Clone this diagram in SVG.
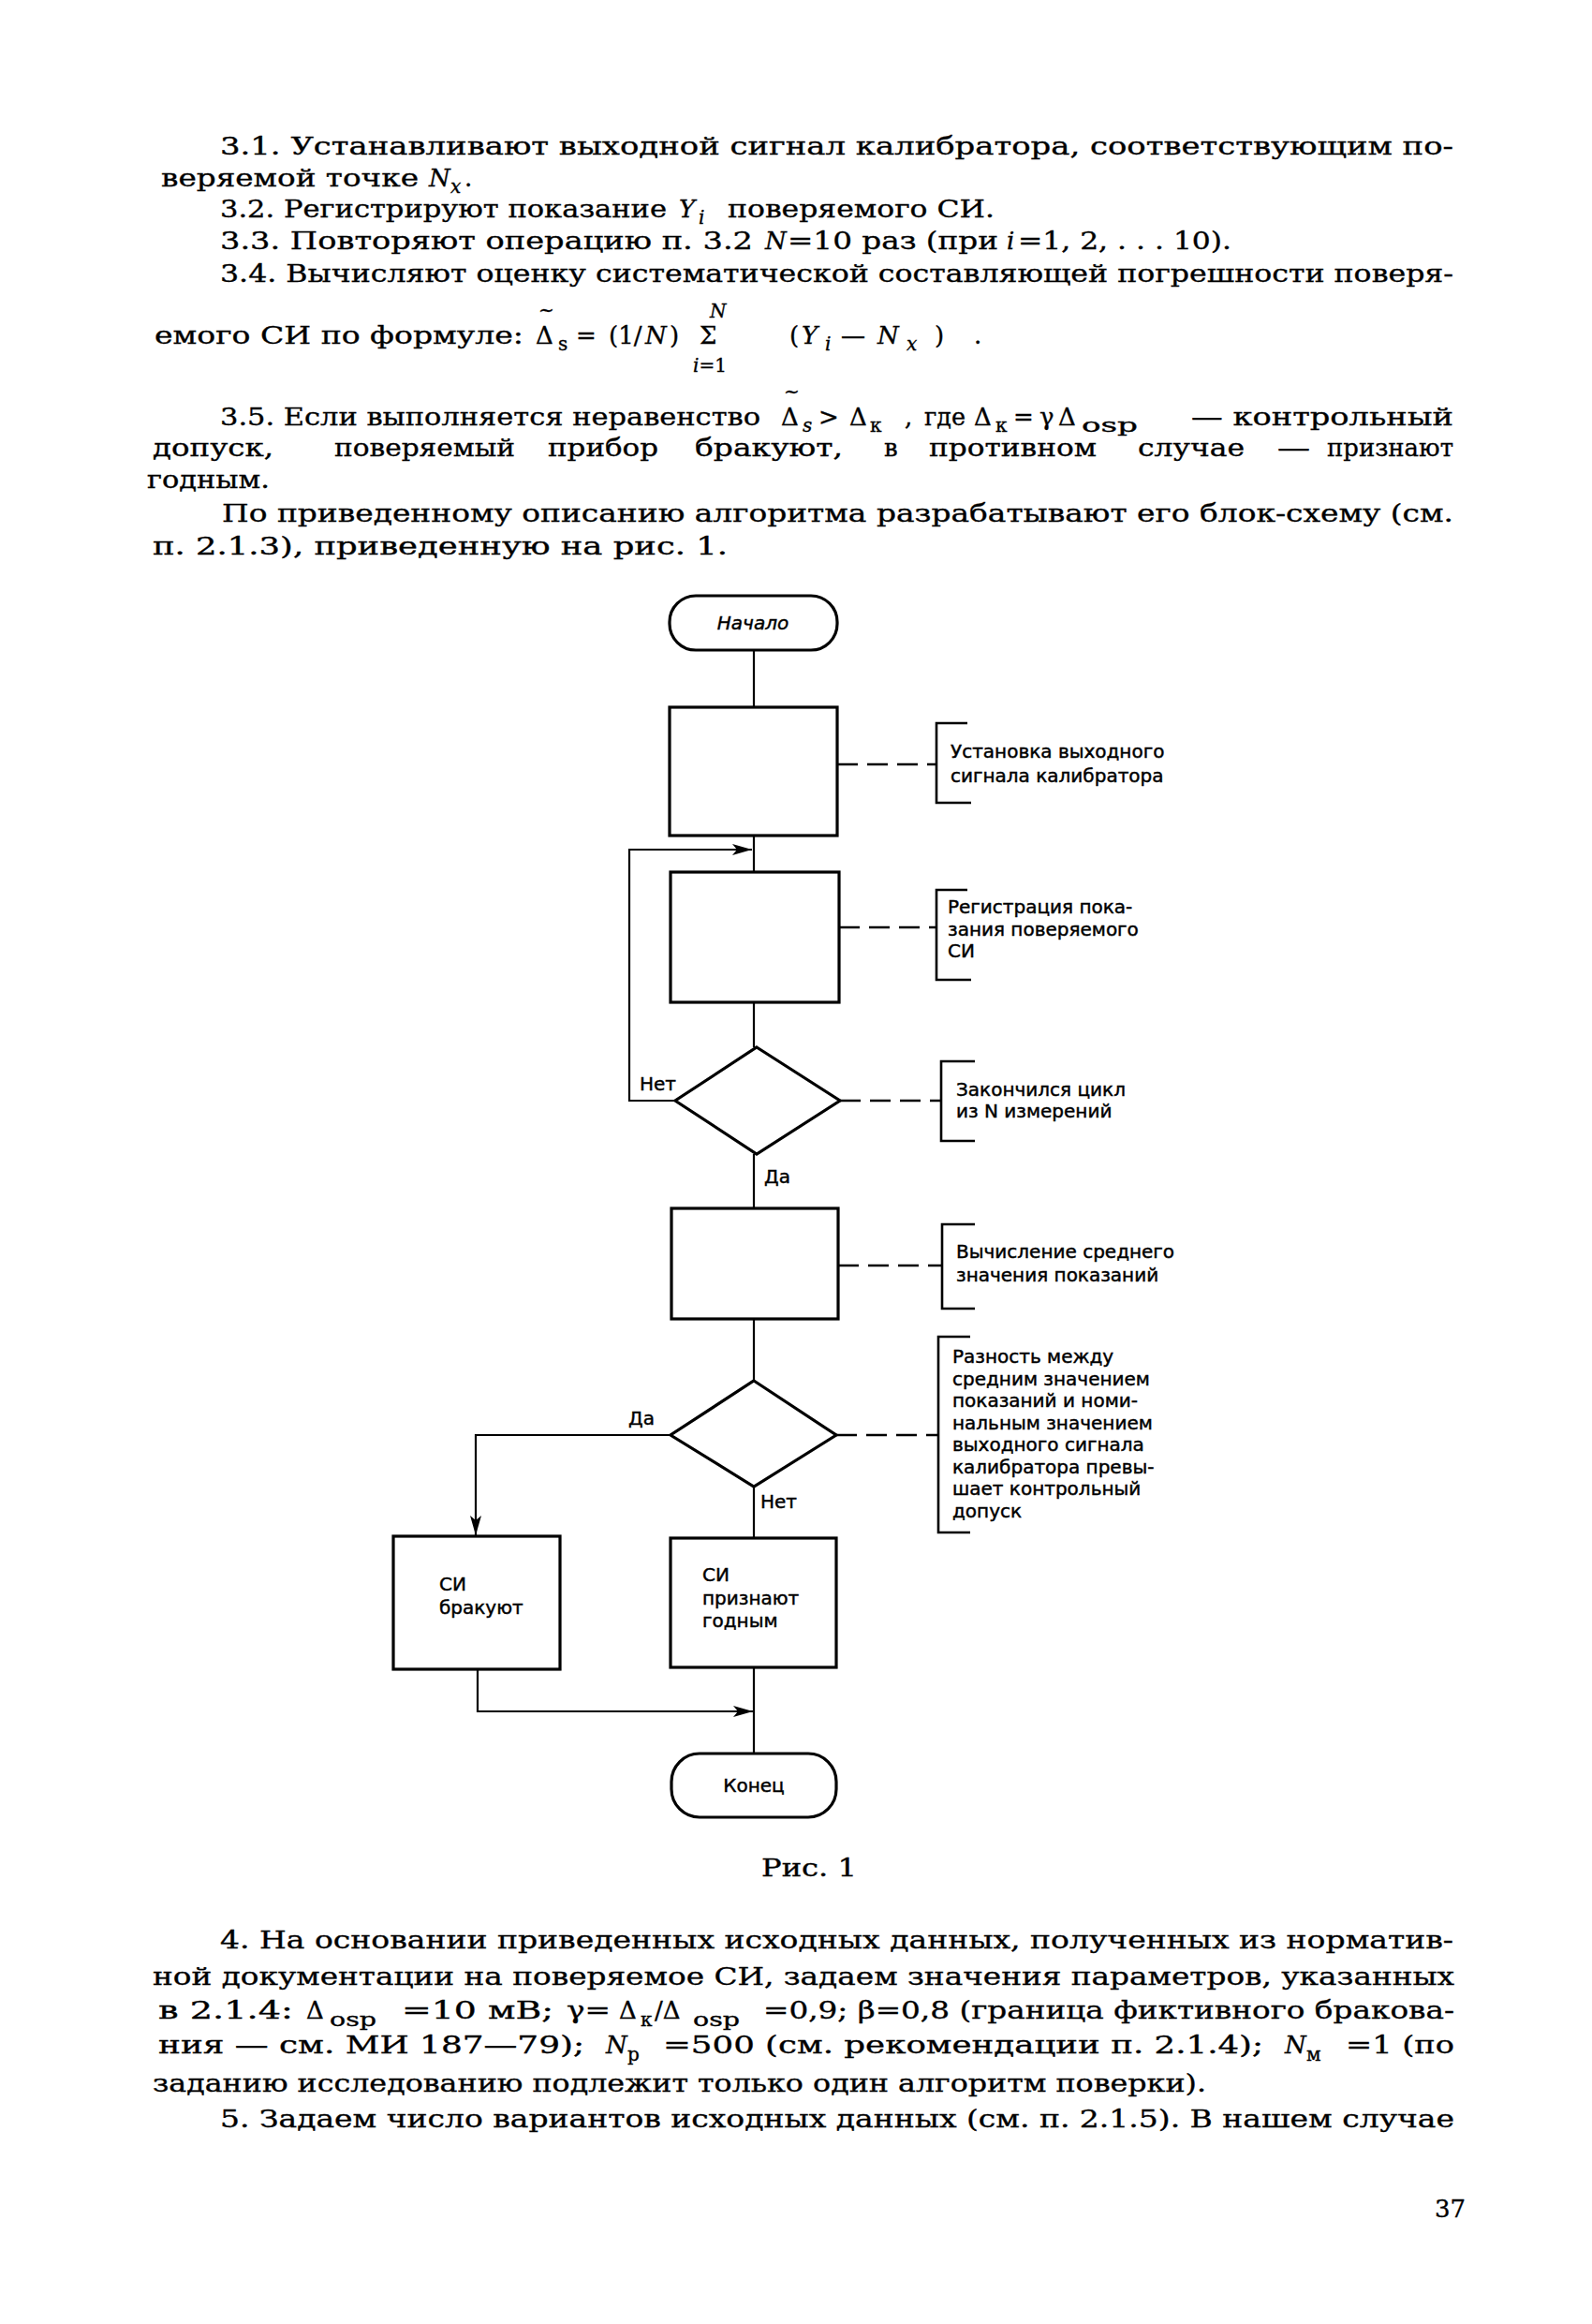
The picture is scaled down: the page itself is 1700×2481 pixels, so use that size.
<svg xmlns="http://www.w3.org/2000/svg" width="1700" height="2481" viewBox="0 0 1700 2481">
<defs>
<style>
.t{font-family:"DejaVu Serif","Liberation Serif",serif;font-size:26px;fill:#000;stroke:#000;stroke-width:0.35}
.s{font-size:20px}
.i{font-style:italic}
.l{font-family:"DejaVu Sans","Liberation Sans",sans-serif;font-size:20px;fill:#000;stroke:#000;stroke-width:0.45}
.shp{fill:none;stroke:#000;stroke-width:3.2}
.con{fill:none;stroke:#000;stroke-width:2.2}
.dash{fill:none;stroke:#000;stroke-width:2.6;stroke-dasharray:22 10}
.br{fill:none;stroke:#000;stroke-width:2.6}
</style>
<marker id="arr" markerUnits="userSpaceOnUse" markerWidth="22" markerHeight="14" refX="21" refY="7" orient="auto">
<path d="M0,1 L21,7 L0,13 L5,7 Z" fill="#000"/>
</marker>
</defs>
<rect width="1700" height="2481" fill="#fff"/>

<g id="text-top">
<text class="t" x="235" y="165" textLength="1317" lengthAdjust="spacingAndGlyphs">3.1. Устанавливают выходной сигнал калибратора, соответствующим по-</text>
<text class="t" x="172" y="199" textLength="275" lengthAdjust="spacingAndGlyphs">веряемой точке</text>
<text class="t i" x="458" y="199">N</text>
<text class="t s i" x="481" y="206">x</text>
<text class="t" x="496" y="199">.</text>

<text class="t" x="235" y="232" textLength="477" lengthAdjust="spacingAndGlyphs">3.2. Регистрируют показание</text>
<text class="t i" x="725" y="232">Y</text>
<text class="t s i" x="746" y="239">i</text>
<text class="t" x="777" y="232" textLength="285" lengthAdjust="spacingAndGlyphs">поверяемого СИ.</text>

<text class="t" x="235" y="266" textLength="569" lengthAdjust="spacingAndGlyphs">3.3. Повторяют операцию п. 3.2</text>
<text class="t i" x="817" y="266">N</text>
<text class="t" x="841" y="266" textLength="225" lengthAdjust="spacingAndGlyphs">=10 раз (при</text>
<text class="t i" x="1075" y="266">i</text>
<text class="t" x="1087" y="266" textLength="228" lengthAdjust="spacingAndGlyphs">=1, 2, . . . 10).</text>

<text class="t" x="235" y="301" textLength="1317" lengthAdjust="spacingAndGlyphs">3.4. Вычисляют оценку систематической составляющей погрешности поверя-</text>

<text class="t" x="165" y="367" textLength="394" lengthAdjust="spacingAndGlyphs">емого СИ по формуле:</text>
<text class="t" x="572" y="367">Δ</text>
<text class="t s" x="575" y="338">~</text>
<text class="t s" x="596" y="374">s</text>
<text class="t" x="615" y="367">=</text>
<text class="t" x="650" y="367">(1/</text>
<text class="t i" x="689" y="367">N</text>
<text class="t" x="715" y="367">)</text>
<text class="t" x="747" y="367">Σ</text>
<text class="t s i" x="758" y="339">N</text>
<text class="t s" x="740" y="397"><tspan class="i">i</tspan>=1</text>
<text class="t" x="843" y="367">(</text>
<text class="t i" x="856" y="367">Y</text>
<text class="t s i" x="881" y="374">i</text>
<text class="t" x="898" y="367">—</text>
<text class="t i" x="937" y="367">N</text>
<text class="t s i" x="968" y="374">x</text>
<text class="t" x="998" y="367">)</text>
<text class="t" x="1040" y="367">.</text>

<text class="t" x="235" y="454" textLength="577" lengthAdjust="spacingAndGlyphs">3.5. Если выполняется неравенство</text>
<text class="t" x="834" y="454">Δ</text>
<text class="t s" x="837" y="425">~</text>
<text class="t s i" x="857" y="461">s</text>
<text class="t" x="874" y="454">&gt;</text>
<text class="t" x="907" y="454">Δ</text>
<text class="t s" x="929" y="461">к</text>
<text class="t" x="966" y="454">,</text>
<text class="t" x="987" y="454" textLength="44" lengthAdjust="spacingAndGlyphs">где</text>
<text class="t" x="1040" y="454">Δ</text>
<text class="t s" x="1063" y="461">к</text>
<text class="t" x="1082" y="454">=</text>
<text class="t" x="1110" y="454">γ</text>
<text class="t" x="1130" y="454">Δ</text>
<text class="t s" x="1155" y="461" textLength="60" lengthAdjust="spacingAndGlyphs">osp</text>
<text class="t" x="1272" y="454" textLength="280" lengthAdjust="spacingAndGlyphs">— контрольный</text>

<text class="t" x="163" y="487" textLength="129" lengthAdjust="spacingAndGlyphs">допуск,</text>
<text class="t" x="357" y="487" textLength="193" lengthAdjust="spacingAndGlyphs">поверяемый</text>
<text class="t" x="585" y="487" textLength="118" lengthAdjust="spacingAndGlyphs">прибор</text>
<text class="t" x="742" y="487" textLength="158" lengthAdjust="spacingAndGlyphs">бракуют,</text>
<text class="t" x="944" y="487">в</text>
<text class="t" x="992" y="487" textLength="179" lengthAdjust="spacingAndGlyphs">противном</text>
<text class="t" x="1215" y="487" textLength="114" lengthAdjust="spacingAndGlyphs">случае</text>
<text class="t" x="1364" y="487" textLength="35" lengthAdjust="spacingAndGlyphs">—</text>
<text class="t" x="1417" y="487" textLength="135" lengthAdjust="spacingAndGlyphs">признают</text>
<text class="t" x="157" y="521" textLength="131" lengthAdjust="spacingAndGlyphs">годным.</text>
<text class="t" x="237" y="557" textLength="1315" lengthAdjust="spacingAndGlyphs">По приведенному описанию алгоритма разрабатывают его блок-схему (см.</text>
<text class="t" x="163" y="592" textLength="614" lengthAdjust="spacingAndGlyphs">п. 2.1.3), приведенную на рис. 1.</text>
</g>

<g id="connectors">
<line class="con" x1="805" y1="694" x2="805" y2="754"/>
<line class="con" x1="805" y1="892" x2="805" y2="930"/>
<line class="con" x1="805" y1="1070" x2="805" y2="1118"/>
<polyline class="con" points="721,1175 672,1175 672,907 803,907" marker-end="url(#arr)"/>
<line class="con" x1="805" y1="1232" x2="805" y2="1290"/>
<line class="con" x1="805" y1="1408" x2="805" y2="1474"/>
<polyline class="con" points="716,1532 508,1532 508,1639" marker-end="url(#arr)"/>
<line class="con" x1="805" y1="1587" x2="805" y2="1642"/>
<polyline class="con" points="510,1782 510,1827 804,1827" marker-end="url(#arr)"/>
<line class="con" x1="805" y1="1780" x2="805" y2="1872"/>
<text class="l" x="683" y="1164">Нет</text>
<text class="l" x="816" y="1263">Да</text>
<text class="l" x="671" y="1521">Да</text>
<text class="l" x="812" y="1610">Нет</text>
</g>

<g id="start">
<rect class="shp" x="715" y="636" width="179" height="58" rx="28" ry="28"/>
<text class="l i" x="804" y="672" text-anchor="middle">Начало</text>
</g>

<g id="n1">
<rect class="shp" x="715" y="755" width="179" height="137"/>
</g>
<g id="a1">
<line class="dash" x1="894" y1="816" x2="1000" y2="816"/>
<path class="br" d="M1033,772 H1000 V857 H1037"/>
<text class="l" x="1015" y="809">Установка выходного</text>
<text class="l" x="1015" y="835">сигнала калибратора</text>
</g>

<g id="n2">
<rect class="shp" x="716" y="931" width="180" height="139"/>
</g>
<g id="a2">
<line class="dash" x1="896" y1="990" x2="1000" y2="990"/>
<path class="br" d="M1033,950 H1000 V1046 H1037"/>
<text class="l" x="1012" y="975">Регистрация пока-</text>
<text class="l" x="1012" y="999">зания поверяемого</text>
<text class="l" x="1012" y="1022">СИ</text>
</g>

<g id="d1">
<polygon class="shp" points="808,1118 897,1175 808,1232 721,1175"/>
</g>
<g id="a3">
<line class="dash" x1="897" y1="1175" x2="1005" y2="1175"/>
<path class="br" d="M1041,1133 H1005 V1218 H1041"/>
<text class="l" x="1021" y="1170">Закончился цикл</text>
<text class="l" x="1021" y="1193">из N измерений</text>
</g>

<g id="n3">
<rect class="shp" x="717" y="1290" width="178" height="118"/>
</g>
<g id="a4">
<line class="dash" x1="895" y1="1351" x2="1006" y2="1351"/>
<path class="br" d="M1041,1307 H1006 V1397 H1041"/>
<text class="l" x="1021" y="1343">Вычисление среднего</text>
<text class="l" x="1021" y="1368">значения показаний</text>
</g>

<g id="d2">
<polygon class="shp" points="805,1474 893,1532 805,1587 716,1532"/>
</g>
<g id="a5">
<line class="dash" x1="893" y1="1532" x2="1002" y2="1532"/>
<path class="br" d="M1036,1427 H1002 V1636 H1036"/>
<text class="l" x="1017" y="1455">Разность между</text>
<text class="l" x="1017" y="1479">средним значением</text>
<text class="l" x="1017" y="1502">показаний и номи-</text>
<text class="l" x="1017" y="1526">нальным значением</text>
<text class="l" x="1017" y="1549">выходного сигнала</text>
<text class="l" x="1017" y="1573">калибратора превы-</text>
<text class="l" x="1017" y="1596">шает контрольный</text>
<text class="l" x="1017" y="1620">допуск</text>
</g>

<g id="n4">
<rect class="shp" x="420" y="1640" width="178" height="142"/>
<text class="l" x="469" y="1698">СИ</text>
<text class="l" x="469" y="1723">бракуют</text>
</g>

<g id="n5">
<rect class="shp" x="716" y="1642" width="177" height="138"/>
<text class="l" x="750" y="1688">СИ</text>
<text class="l" x="750" y="1713">признают</text>
<text class="l" x="750" y="1737">годным</text>
</g>

<g id="end">
<rect class="shp" x="717" y="1872" width="176" height="68" rx="30" ry="30"/>
<text class="l" x="805" y="1913" text-anchor="middle">Конец</text>
</g>

<g id="text-bottom">
<text class="t" x="813" y="2003" textLength="102" lengthAdjust="spacingAndGlyphs">Рис. 1</text>

<text class="t" x="235" y="2080" textLength="1317" lengthAdjust="spacingAndGlyphs">4. На основании приведенных исходных данных, полученных из норматив-</text>
<text class="t" x="163" y="2119" textLength="1390" lengthAdjust="spacingAndGlyphs">ной документации на поверяемое СИ, задаем значения параметров, указанных</text>

<text class="t" x="169" y="2155" textLength="144" lengthAdjust="spacingAndGlyphs">в 2.1.4:</text>
<text class="t" x="327" y="2155">Δ</text>
<text class="t s" x="352" y="2163" textLength="50" lengthAdjust="spacingAndGlyphs">osp</text>
<text class="t" x="429" y="2155" textLength="162" lengthAdjust="spacingAndGlyphs">=10 мВ;</text>
<text class="t" x="605" y="2155" textLength="47" lengthAdjust="spacingAndGlyphs">γ=</text>
<text class="t" x="661" y="2155">Δ</text>
<text class="t s" x="684" y="2163">к</text>
<text class="t" x="699" y="2155">/Δ</text>
<text class="t s" x="740" y="2163" textLength="50" lengthAdjust="spacingAndGlyphs">osp</text>
<text class="t" x="815" y="2155" textLength="738" lengthAdjust="spacingAndGlyphs">=0,9; β=0,8 (граница фиктивного бракова-</text>

<text class="t" x="169" y="2192" textLength="455" lengthAdjust="spacingAndGlyphs">ния — см. МИ 187—79);</text>
<text class="t i" x="647" y="2192">N</text>
<text class="t s" x="670" y="2200">p</text>
<text class="t" x="708" y="2192" textLength="641" lengthAdjust="spacingAndGlyphs">=500 (см. рекомендации п. 2.1.4);</text>
<text class="t i" x="1372" y="2192">N</text>
<text class="t s" x="1395" y="2200">м</text>
<text class="t" x="1437" y="2192" textLength="116" lengthAdjust="spacingAndGlyphs">=1 (по</text>

<text class="t" x="163" y="2233" textLength="1125" lengthAdjust="spacingAndGlyphs">заданию исследованию подлежит только один алгоритм поверки).</text>
<text class="t" x="235" y="2271" textLength="1318" lengthAdjust="spacingAndGlyphs">5. Задаем число вариантов исходных данных (см. п. 2.1.5). В нашем случае</text>
<text class="t" x="1532" y="2367">37</text>
</g>
</svg>
